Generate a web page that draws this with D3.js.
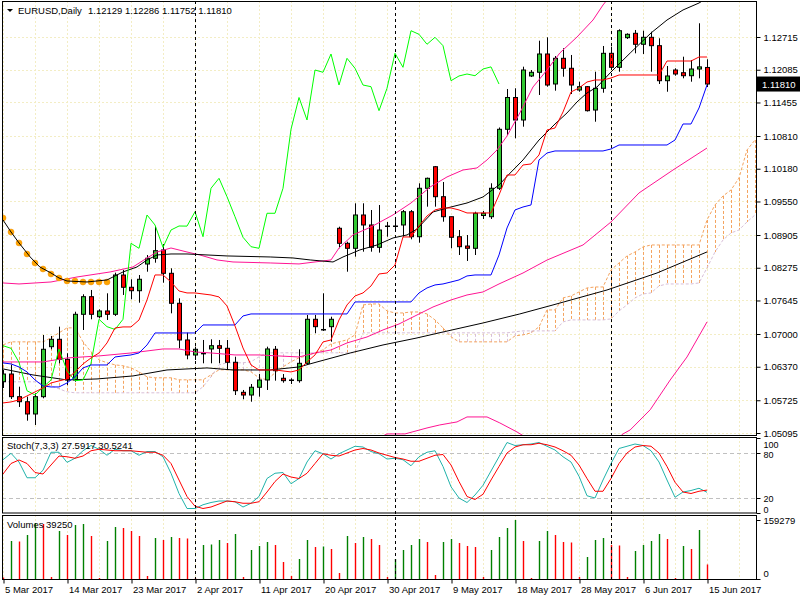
<!DOCTYPE html>
<html>
<head>
<meta charset="utf-8">
<script src="https://cdn.jsdelivr.net/npm/d3@7"></script>
<style>
  body { margin: 0; background: #fff; }
  text { font-family: "Liberation Sans", Arial, sans-serif; font-size: 9.5px; fill: #000; }
</style>
</head>
<body>
<div id="canvas"></div>
<script>
//---------------------------------- DATA ---------------------------------------------

const symbol = "EURUSD,Daily";
const dateLabels = ["5 Mar 2017", "14 Mar 2017", "23 Mar 2017", "2 Apr 2017", "11 Apr 2017", "20 Apr 2017",
                    "30 Apr 2017", "9 May 2017", "18 May 2017", "28 May 2017", "6 Jun 2017", "15 Jun 2017"];
const dateBars = [0, 8, 16, 24, 32, 40, 48, 56, 64, 72, 80, 88];
const monthStarts = [24, 49, 76];
const priceTicks = [1.12715, 1.12085, 1.11455, 1.10810, 1.10180, 1.09550, 1.08905,
                    1.08275, 1.07645, 1.07000, 1.06370, 1.05725, 1.05095];
const stochTicks = [100, 80, 20, 0];
const stochLevels = [80, 20];

const opens = [1.06082,1.06230,1.05794,1.05697,1.05461,1.05794,1.06756,1.06898,1.06513,1.06115,
  1.07379,1.07718,1.07333,1.07443,1.07379,1.08135,1.07899,1.07833,1.08347,1.08457,
  1.08617,1.08168,1.07591,1.06885,1.06596,1.06625,1.06712,1.06775,1.06725,1.06456,
  1.05878,1.05826,1.05975,1.06115,1.06706,1.06148,1.06109,1.06102,1.06436,1.07283,
  1.07077,1.07141,1.09034,1.08745,1.08649,1.09290,1.09098,1.08668,1.09074,1.09078,
  1.09098,1.09353,1.08872,1.09804,1.10219,1.09642,1.09257,1.08872,1.08693,1.08649,
  1.09280,1.09257,1.09804,1.10939,1.11551,1.11118,1.11965,1.12036,1.12388,1.11811,
  1.12305,1.12113,1.11695,1.11759,1.11310,1.11728,1.12401,1.12132,1.12702,1.12786,
  1.12575,1.12709,1.12548,1.11874,1.12080,1.12028,1.11970,1.12099,1.12129];
const highs = [1.06307,1.06404,1.05986,1.05794,1.05859,1.06981,1.06962,1.07141,1.06629,1.07429,
  1.07764,1.07847,1.07475,1.07783,1.08180,1.08232,1.08053,1.08135,1.08520,1.09078,
  1.08732,1.08264,1.07687,1.07025,1.06756,1.06885,1.06898,1.06885,1.06885,1.06563,
  1.05923,1.06038,1.06230,1.06756,1.06769,1.06230,1.06148,1.06706,1.07366,1.07366,
  1.07783,1.07333,1.09065,1.08776,1.09515,1.09515,1.09386,1.09482,1.09155,1.09194,
  1.09386,1.09386,1.09900,1.10010,1.10233,1.09925,1.09257,1.09001,1.08905,1.09353,
  1.09367,1.09900,1.10974,1.11714,1.11728,1.12144,1.12080,1.12644,1.12709,1.12349,
  1.12498,1.12369,1.11855,1.11772,1.12047,1.12542,1.12528,1.12863,1.12786,1.12850,
  1.12836,1.12817,1.12690,1.12157,1.12113,1.12336,1.12272,1.12979,1.12286];
const lows = [1.05961,1.05749,1.05596,1.05332,1.05249,1.05763,1.06706,1.06436,1.06019,1.06082,
  1.07077,1.07283,1.07302,1.07270,1.07347,1.07751,1.07668,1.07602,1.08199,1.08372,
  1.07987,1.07398,1.06725,1.06513,1.06500,1.06436,1.06436,1.06436,1.06307,1.05826,
  1.05744,1.05697,1.05794,1.05923,1.06102,1.06063,1.06038,1.06063,1.06404,1.07014,
  1.07058,1.06852,1.08649,1.08199,1.08488,1.08584,1.08584,1.08565,1.08872,1.09001,
  1.08872,1.08822,1.08757,1.09450,1.09450,1.09161,1.08649,1.08520,1.08405,1.08520,
  1.09213,1.09213,1.09771,1.10829,1.10766,1.10989,1.11945,1.11599,1.11759,1.11682,
  1.11951,1.11618,1.11662,1.11281,1.11085,1.11643,1.12080,1.12047,1.12677,1.12401,
  1.12388,1.12047,1.11811,1.11662,1.11970,1.11920,1.11855,1.11920,1.11752];
const closes = [1.06230,1.05794,1.05697,1.05461,1.05794,1.06706,1.06898,1.06513,1.06115,1.07379,
  1.07718,1.07379,1.07443,1.07379,1.08135,1.07899,1.07833,1.08053,1.08457,1.08603,
  1.08168,1.07591,1.06885,1.06596,1.06706,1.06628,1.06775,1.06725,1.06456,1.05909,
  1.05826,1.05975,1.06115,1.06712,1.06294,1.06102,1.06115,1.06436,1.07283,1.07141,
  1.07087,1.07283,1.08745,1.08649,1.09290,1.09098,1.08668,1.09001,1.09078,1.09076,
  1.09353,1.08872,1.09804,1.09996,1.09642,1.09257,1.08861,1.08680,1.08649,1.09323,
  1.09323,1.09804,1.10939,1.11551,1.11118,1.12080,1.12036,1.12388,1.11791,1.12305,
  1.12113,1.11791,1.11759,1.11297,1.11728,1.12401,1.12132,1.12836,1.12767,1.12575,
  1.12709,1.12548,1.11874,1.11965,1.12003,1.11970,1.12099,1.12140,1.11810];

const volumes = [4050,102600,101250,118800,151200,148500,5400,129600,118800,145800,
  148500,116100,2700,102600,140400,137700,129600,116100,8100,110700,
  105300,113400,110700,109350,2700,91800,93150,105300,97200,121500,
  5400,78300,89100,99900,91800,45900,8100,54000,105300,86400,
  87750,81000,16200,116100,97200,113400,108000,91800,5400,54000,
  78300,91800,108000,99900,10800,99900,108000,97200,89100,86400,
  5400,78300,113400,137700,159279,102600,2700,102600,129600,118800,
  99900,98550,5400,59400,105300,110700,91800,90450,5400,75600,
  91800,102600,121500,108000,2700,89100,81000,132300,39250];

const stochK = [71,79.6,68,47,47,57,81,81,67.5,73, 83,90,85,77,85,83,83,77,82,82,
  75,53,26,6,6,11,14,16,16,15, 8,13,22,46,53,54,39,46,68,83, 79,72,79,84,89,88,82,79,72,73,
  71,63,75,81,83,62,35,20,14,24, 37,56,75,94,90,91,92,94,89,84, 75,68,49,23,20,44,66,86,89,92,
  90,83,68,44,21,28,30,33,27.5917];
const stochD = [52,66,70.7,66,54,52,64,76,75,73, 76,83,85,84,83,83,83,82,81,81,
  77,66,44,22,9,6,8,12,16,15, 13,13,15,28,42,52,48,46,53,66, 79,77,76,80,84,86,84,80,77,74,
  72,69,69,73,77,78,64,42,22,18, 25,44,62,80,88,91,91,93,91,88, 83,77,64,46,29,29,46,66,80,88,
  90,89,80,62,41,28,26,29,30.5241];

// Ichimoku
const tenkan = [1.05673,1.05693,1.05731,1.05808,1.05885,1.05962,1.06058,1.06097,1.06135,1.06270,
  1.06424,1.06539,1.06635,1.06828,1.07116,1.07136,1.07136,1.07270,1.07655,1.08136,
  1.08136,1.08001,1.07828,1.07790,1.07790,1.07770,1.07751,1.07713,1.07540,1.07155,
  1.06731,1.06404,1.06308,1.06308,1.06308,1.06289,1.06270,1.06308,1.06462,1.06597,
  1.06847,1.06885,1.07270,1.07559,1.07732,1.07790,1.07924,1.08155,1.08174,1.08328,
  1.08867,1.08867,1.09079,1.09271,1.09387,1.09425,1.09425,1.09387,1.09329,1.09329,
  1.09329,1.09329,1.09675,1.10060,1.10060,1.10252,1.10272,1.10445,1.10926,1.10964,
  1.11272,1.11657,1.11734,1.11849,1.11888,1.11888,1.11926,1.11984,1.11984,1.11984,
  1.11984,1.11984,1.11984,1.12253,1.12253,1.12253,1.12253,1.12330,1.12330];
const kijun = [1.06443,1.06424,1.06366,1.06270,1.06116,1.06000,1.05981,1.05981,1.06058,1.06174,
  1.06347,1.06404,1.06404,1.06404,1.06558,1.06578,1.06597,1.06635,1.06789,1.07020,
  1.07020,1.07020,1.07020,1.07020,1.07020,1.07174,1.07174,1.07174,1.07174,1.07174,
  1.07347,1.07386,1.07386,1.07386,1.07386,1.07386,1.07386,1.07386,1.07386,1.07386,
  1.07386,1.07386,1.07386,1.07386,1.07617,1.07617,1.07617,1.07617,1.07617,1.07617,
  1.07617,1.07617,1.07790,1.07886,1.07944,1.07963,1.08001,1.08040,1.08117,1.08136,
  1.08136,1.08136,1.08521,1.09040,1.09387,1.09444,1.09483,1.10349,1.10483,1.10522,
  1.10522,1.10522,1.10522,1.10522,1.10522,1.10522,1.10560,1.10637,1.10637,1.10637,
  1.10637,1.10637,1.10637,1.10637,1.10733,1.11041,1.11041,1.11349,1.11792];
const chikouShift = 26;
const senkouA = [1.06791,1.06849,1.06849,1.06849,1.06849,1.06849,1.06926,1.07022,1.07118,1.07118,
  1.06849,1.06657,1.06503,1.06446,1.06407,1.06388,1.06349,1.06272,1.06176,1.06157,
  1.06157,1.06157,1.06118,1.06118,1.06118,1.06118,1.06214,1.06311,1.06311,1.06311,
  1.06311,1.06272,1.06157,1.06118,1.06253,1.06368,1.06465,1.06542,1.06580,1.06638,
  1.06695,1.06810,1.06849,1.06887,1.06983,1.07559,1.07578,1.07578,1.07444,1.07405,
  1.07405,1.07424,1.07424,1.07386,1.07271,1.07118,1.06945,1.06849,1.06849,1.06849,
  1.06849,1.06849,1.06849,1.06849,1.06964,1.06983,1.07022,1.07137,1.07463,1.07463,
  1.07694,1.07732,1.07809,1.07886,1.07905,1.07905,1.08232,1.08367,1.08502,1.08578,
  1.08675,1.08713,1.08713,1.08713,1.08713,1.08713,1.08713,1.08713,1.09194,1.09483,
  1.09656,1.09771,1.10002,1.10541,1.10733];
const senkouB = [1.06080,1.06080,1.06080,1.06080,1.06080,1.06042,1.06003,1.05945,1.05887,1.05868,
  1.05868,1.05868,1.05868,1.05868,1.05868,1.05868,1.05868,1.05868,1.05868,1.05868,
  1.05868,1.05868,1.05868,1.05868,1.05868,1.05984,1.06176,1.06407,1.06446,1.06446,
  1.06446,1.06465,1.06561,1.06638,1.06638,1.06638,1.06638,1.06638,1.06638,1.06638,
  1.06638,1.06638,1.06638,1.06638,1.06638,1.07022,1.07022,1.07022,1.07022,1.07022,
  1.07022,1.07022,1.07022,1.07022,1.07022,1.07022,1.07022,1.07022,1.07022,1.07022,
  1.07022,1.07022,1.07022,1.07022,1.07041,1.07060,1.07060,1.07060,1.07060,1.07060,
  1.07233,1.07271,1.07271,1.07271,1.07271,1.07271,1.07291,1.07444,1.07559,1.07694,
  1.07771,1.07790,1.07924,1.07963,1.07963,1.07963,1.07963,1.07982,1.08271,1.08578,
  1.08809,1.08944,1.09002,1.09156,1.09291];

// bands and averages: [bar, price]
const bandUpper = [[0,1.07982],[2,1.07963],[6,1.08001],[9.25,1.08097],[13.4,1.08194],[16.25,1.08290],
  [18,1.08463],[19.25,1.08578],[21,1.08655],[23,1.08578],[24.6,1.08521],[26.75,1.08425],[28.75,1.08386],
  [33.4,1.08367],[37,1.08348],[41,1.08425],[42,1.08655],[43.75,1.08906],[46,1.09060],[48.75,1.09291],
  [51,1.09521],[53.4,1.09829],[55.5,1.10022],[57.5,1.10156],[59.25,1.10195],[60.5,1.10349],[61.75,1.10541],
  [63,1.10810],[64.6,1.11253],[66.25,1.11753],[68,1.12080],[69.6,1.12407],[71.75,1.12715],[73.75,1.13042],
  [75,1.13331],[76,1.13523]];
const bandMiddle = [[0,1.06462],[5,1.06462],[8,1.06539],[12,1.06578],[16,1.06635],[20,1.06712],[22,1.06712],
  [24,1.06654],[26,1.06635],[29,1.06597],[32,1.06597],[37,1.06558],[39,1.06635],[41,1.06693],[43,1.06828],
  [45.5,1.06943],[47.5,1.07078],[49.5,1.07193],[51.75,1.07366],[53.75,1.07520],[56,1.07655],[58,1.07751],
  [60,1.07809],[62,1.07963],[65,1.08174],[68,1.08423],[72.5,1.08713],[76,1.09156],[79.5,1.09714],
  [83.75,1.10156],[88,1.10579]];
const bandLower = [[47,1.04999],[48,1.05077],[50.25,1.05077],[53,1.05192],[54.6,1.05250],[56.75,1.05308],
  [58,1.05404],[60.5,1.05404],[62.1,1.05289],[64.25,1.05115],[65.9,1.04961],[75.9,1.04865],[77.5,1.05077],
  [78.4,1.05154],[80.9,1.05542],[83.4,1.06115],[85.5,1.06558],[88,1.07232]];
const maFast = [[0,1.09194],[1,1.08963],[2,1.08752],[3.4,1.08482],[4.6,1.08290],[6,1.08174],[7,1.08078],
  [8,1.08020],[10.5,1.08001],[13,1.08040],[15,1.08194],[16.75,1.08290],[18,1.08425],[19.25,1.08521],
  [21,1.08540],[23,1.08540],[25.5,1.08521],[28,1.08502],[33.4,1.08482],[36.25,1.08463],[38.4,1.08425],
  [41.25,1.08386],[42.5,1.08482],[44.6,1.08617],[46.75,1.08713],[48.75,1.08848],[50.5,1.08906],
  [51.75,1.09021],[53.75,1.09348],[55.5,1.09425],[58,1.09521],[60,1.09637],[62,1.09868],[63.4,1.10098],
  [65,1.10349],[67,1.10733],[69,1.11041],[70.5,1.11253],[71.75,1.11465],[73,1.11638],[74.25,1.11753],
  [76,1.12042],[78.4,1.12407],[81,1.12792],[83,1.13042],[85,1.13235],[87,1.13369],[88,1.13465]];
const maSlow = [[0,1.06328],[3.75,1.06212],[8,1.06116],[11.75,1.06135],[16.25,1.06193],[20.5,1.06308],
  [25.5,1.06347],[28.75,1.06308],[33.4,1.06308],[37,1.06366],[39.25,1.06462],[43.4,1.06635],
  [47.5,1.06789],[51.75,1.06924],[55,1.07039],[60,1.07212],[64.6,1.07386],[68.75,1.07559],
  [75.5,1.07847],[81.75,1.08174],[88,1.08579]];
const dotValues = [1.09233,1.08963,1.08752,1.08540,1.08367,1.08251,1.08155,1.08078,1.08020,1.08020,
  1.08001,1.08001,1.08001,1.08001];

//---------------------------------- CHART ---------------------------------------------

const width = 800, height = 600;
const left = 2, right = 756;
const mainP = {top: 1, bottom: 435};
const stochP = {top: 437, bottom: 512.5};
const volP = {top: 515, bottom: 579};

const svg = d3.select("#canvas").append("svg")
    .attr("width", width)
    .attr("height", height);
svg.append("rect").attr("width", width).attr("height", height).attr("fill", "#fff");

const x = d3.scaleLinear().domain([0, 88]).range([3, 707]);
const y = d3.scaleLinear().domain([1.05095, 1.12715]).range([433, 37]);
const ys = d3.scaleLinear().domain([0, 100]).range([513, 438]);
const yv = d3.scaleLinear().domain([0, d3.max(volumes)]).range([579, 520]);

const defs = svg.append("defs");
[["clipMain", mainP], ["clipStoch", stochP], ["clipVol", volP]].forEach(([id, p]) => {
    defs.append("clipPath").attr("id", id).append("rect")
        .attr("x", left).attr("y", p.top).attr("width", right - left).attr("height", p.bottom - p.top);
});

// grid
const gridBars = d3.range(0, 95, 4);
[mainP, stochP, volP].forEach(p => {
    svg.append("g").selectAll("line").data(gridBars).enter().append("line")
        .attr("x1", d => Math.round(x(d)) + 0.5).attr("x2", d => Math.round(x(d)) + 0.5)
        .attr("y1", p.top).attr("y2", p.bottom)
        .attr("stroke", "#f3edc4").attr("stroke-dasharray", "2,2");
});
svg.append("g").selectAll("line").data(priceTicks).enter().append("line")
    .attr("x1", left).attr("x2", right)
    .attr("y1", d => Math.round(y(d)) + 0.5).attr("y2", d => Math.round(y(d)) + 0.5)
    .attr("stroke", "#f3edc4").attr("stroke-dasharray", "2,2");

const gMain = svg.append("g").attr("clip-path", "url(#clipMain)");

// kumo
gMain.append("g").selectAll("line").data(senkouA).enter().append("line")
    .attr("x1", (d, i) => Math.round(x(i)) + 0.5).attr("x2", (d, i) => Math.round(x(i)) + 0.5)
    .attr("y1", d => y(d)).attr("y2", (d, i) => y(senkouB[i]))
    .attr("stroke", (d, i) => d >= senkouB[i] ? "#F4A460" : "#D8BFD8")
    .attr("stroke-dasharray", "3,2");

const lineIdx = d3.line().x((d, i) => x(i)).y(d => y(d));
const linePair = d3.line().x(d => x(d[0])).y(d => y(d[1]));

gMain.append("path").attr("d", lineIdx(senkouA)).attr("fill", "none")
    .attr("stroke", "#F4A460").attr("stroke-dasharray", "3,2");
gMain.append("path").attr("d", lineIdx(senkouB)).attr("fill", "none")
    .attr("stroke", "#D8BFD8").attr("stroke-dasharray", "3,2");

// candles
const bars = gMain.append("g").selectAll("g").data(opens).enter().append("g");
bars.append("line")
    .attr("x1", (d, i) => x(i) + 0.5).attr("x2", (d, i) => x(i) + 0.5)
    .attr("y1", (d, i) => y(highs[i])).attr("y2", (d, i) => y(lows[i]))
    .attr("stroke", "#000");
bars.append("rect")
    .attr("x", (d, i) => x(i) - 1.5)
    .attr("y", (d, i) => Math.min(y(d), y(closes[i])))
    .attr("width", 4)
    .attr("height", (d, i) => Math.max(0.5, Math.abs(y(d) - y(closes[i]))))
    .attr("fill", (d, i) => closes[i] >= d ? "#32C832" : "#FF0000")
    .attr("stroke", "#000");

// bands and averages
gMain.append("path").attr("d", linePair(bandUpper)).attr("fill", "none").attr("stroke", "#FF1493");
gMain.append("path").attr("d", linePair(bandMiddle)).attr("fill", "none").attr("stroke", "#FF1493");
gMain.append("path").attr("d", linePair(bandLower)).attr("fill", "none").attr("stroke", "#FF1493");
gMain.append("path").attr("d", linePair(maSlow)).attr("fill", "none").attr("stroke", "#000");
gMain.append("g").selectAll("circle").data(dotValues).enter().append("circle")
    .attr("cx", (d, i) => x(i)).attr("cy", d => y(d)).attr("r", 3)
    .attr("fill", "#FFA500").attr("stroke", "#F0900A").attr("stroke-width", 0.5);
gMain.append("path").attr("d", linePair(maFast)).attr("fill", "none").attr("stroke", "#000");

// ichimoku lines
gMain.append("path").attr("d", lineIdx(closes.slice(chikouShift))).attr("fill", "none").attr("stroke", "#00FF00");
gMain.append("path").attr("d", lineIdx(kijun)).attr("fill", "none").attr("stroke", "#0000FF");
gMain.append("path").attr("d", lineIdx(tenkan)).attr("fill", "none").attr("stroke", "#FF0000");

// stochastic
const gStoch = svg.append("g").attr("clip-path", "url(#clipStoch)");
gStoch.selectAll("line").data(stochLevels).enter().append("line")
    .attr("x1", left).attr("x2", right)
    .attr("y1", d => Math.round(ys(d)) + 0.5).attr("y2", d => Math.round(ys(d)) + 0.5)
    .attr("stroke", "#C0C0C0").attr("stroke-dasharray", "4,3");
const lineStoch = d3.line().x((d, i) => x(i)).y(d => ys(d));
gStoch.append("path").attr("d", lineStoch(stochK)).attr("fill", "none").attr("stroke", "#20B2AA");
gStoch.append("path").attr("d", lineStoch(stochD)).attr("fill", "none").attr("stroke", "#FF0000");

// volumes
const gVol = svg.append("g").attr("clip-path", "url(#clipVol)");
gVol.selectAll("line").data(volumes).enter().append("line")
    .attr("x1", (d, i) => x(i) + 0.5).attr("x2", (d, i) => x(i) + 0.5)
    .attr("y1", yv(0)).attr("y2", d => yv(d))
    .attr("stroke", (d, i) => i > 0 && d > volumes[i - 1] ? "#008000" : "#FF0000")
    .attr("stroke-width", 1.4);

// period separators
svg.append("g").selectAll("line").data(monthStarts).enter().append("line")
    .attr("x1", d => x(d) + 0.5).attr("x2", d => x(d) + 0.5)
    .attr("y1", mainP.top).attr("y2", volP.bottom)
    .attr("stroke", "#000").attr("stroke-dasharray", "3,3");

// frames
[mainP, stochP, volP].forEach(p => {
    svg.append("rect")
        .attr("x", left + 0.5).attr("y", p.top + 0.5)
        .attr("width", right - left).attr("height", p.bottom - p.top)
        .attr("fill", "none").attr("stroke", "#000");
});

// price axis
const pAxis = svg.append("g").attr("transform", `translate(${right + 0.5},0)`)
    .call(d3.axisRight(y).tickValues(priceTicks).tickFormat(d3.format(".5f")).tickSize(4).tickPadding(3));
pAxis.select(".domain").remove();
pAxis.selectAll("text").style("font-family", "Liberation Sans, Arial, sans-serif").style("font-size", "9.5px");

const last = opens.length - 1;
svg.append("rect")
    .attr("x", right + 1).attr("y", y(closes[last]) - 7.5)
    .attr("width", width - right - 1).attr("height", 15).attr("fill", "#000");
svg.append("text")
    .attr("x", right + 6).attr("y", y(closes[last]) + 3.5)
    .style("fill", "#fff")
    .text(d3.format(".5f")(closes[last]));

// stoch axis (end labels pulled inside the pane like the terminal does)
const sAxis = svg.append("g").attr("transform", `translate(${right + 0.5},0)`)
    .call(d3.axisRight(ys).tickValues(stochTicks).tickSize(4).tickPadding(3));
sAxis.select(".domain").remove();
sAxis.selectAll("text").style("font-family", "Liberation Sans, Arial, sans-serif").style("font-size", "9px")
    .attr("dy", d => d === 100 ? "9px" : d === 80 ? "4.5px" : d === 20 ? "3.5px" : "-0.5px");

// volume axis
const vAxis = svg.append("g").attr("transform", `translate(${right + 0.5},0)`)
    .call(d3.axisRight(yv).tickValues([d3.max(volumes), 0]).tickFormat(d3.format("d")).tickSize(4).tickPadding(3));
vAxis.select(".domain").remove();
vAxis.selectAll("text").style("font-family", "Liberation Sans, Arial, sans-serif").style("font-size", "9.5px")
    .attr("dy", d => d === 0 ? "-0.3em" : "0.32em");

// date axis
const xAxis = svg.append("g").attr("transform", `translate(0.5,${volP.bottom + 0.5})`)
    .call(d3.axisBottom(x).tickValues(dateBars).tickFormat((d, i) => dateLabels[i]).tickSize(4).tickPadding(3));
xAxis.select(".domain").remove();
xAxis.selectAll("text").style("font-family", "Liberation Sans, Arial, sans-serif").style("font-size", "9.5px")
    .attr("text-anchor", "start").attr("dx", 1);

// labels
svg.append("path").attr("d", "M7,9 L13,9 L10,12 Z").attr("fill", "#000");
svg.append("text").attr("x", 18).attr("y", 14).text(symbol);
svg.append("text").attr("x", 88).attr("y", 14)
    .text([opens[last], highs[last], lows[last], closes[last]].map(d3.format(".5f")).join(" "));
svg.append("text").attr("x", 7).attr("y", 449)
    .text(`Stoch(7,3,3) ${stochK[last].toFixed(4)} ${stochD[last].toFixed(4)}`);
svg.append("text").attr("x", 7).attr("y", 528).text(`Volumes ${volumes[last]}`);
</script>
</body>
</html>
